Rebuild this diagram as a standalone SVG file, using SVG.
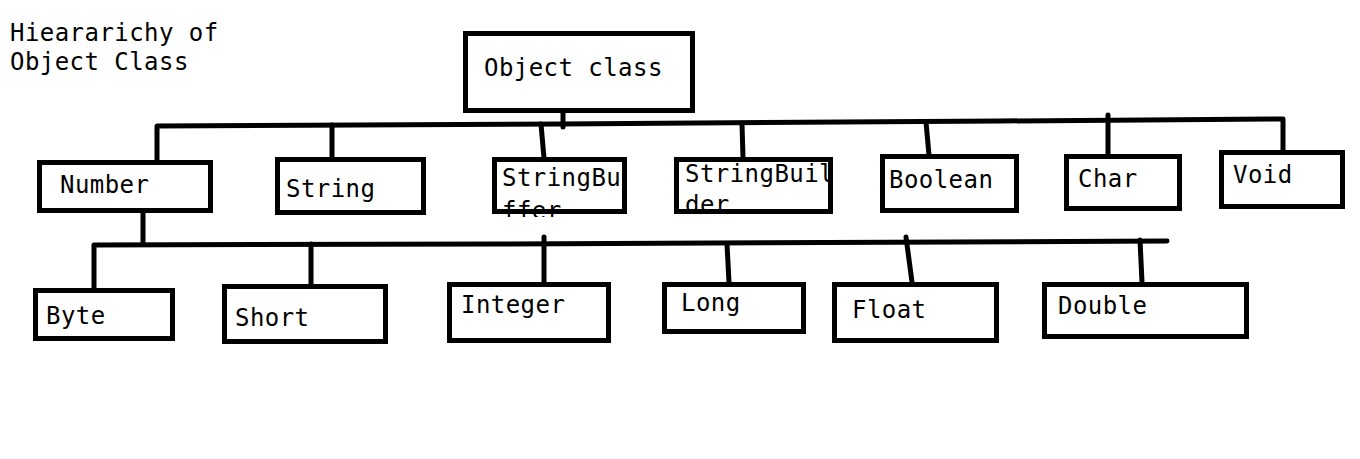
<svg xmlns="http://www.w3.org/2000/svg" width="1360" height="459" viewBox="0 0 1360 459">
<style>
.box{fill:#fff;stroke:#000;stroke-width:5}
.t{font-family:"DejaVu Sans Mono","Liberation Mono",monospace;font-size:24px;letter-spacing:0.45px;fill:#000}
.ln{fill:none;stroke:#000;stroke-width:5;stroke-linecap:round;stroke-linejoin:round}
</style>
<defs>
<clipPath id="cbuf"><rect x="495" y="160" width="128" height="57"/></clipPath>
<clipPath id="cbld"><rect x="677" y="160" width="151" height="53"/></clipPath>
</defs>
<rect width="1360" height="459" fill="#fff"/>
<g id="title">
<text class="t" x="10" y="41">Hieararichy of</text>
<text class="t" x="10" y="70">Object Class</text>
</g>
<g id="connectors">
<path class="ln" d="M157,160 L157,126 L560,124 L1000,121 L1283,119 L1283,150"/>
<path class="ln" d="M563,108 L563,127"/>
<path class="ln" d="M332,125 L332,158"/>
<path class="ln" d="M541,124 L544,158"/>
<path class="ln" d="M742,124 L743,158"/>
<path class="ln" d="M926,122 L929,155"/>
<path class="ln" d="M1108,115 L1108,155"/>
<path class="ln" d="M94,288 L94,245 L500,244 L1167,241"/>
<path class="ln" d="M143,212 L143,244"/>
<path class="ln" d="M311,244 L311,284"/>
<path class="ln" d="M544,237 L544,289"/>
<path class="ln" d="M727,244 L729,282"/>
<path class="ln" d="M906,237 L912,282"/>
<path class="ln" d="M1140,240 L1142,282"/>
</g>
<g id="object"><rect class="box" x="465.5" y="33.5" width="227" height="77"/><text class="t" x="484" y="76">Object class</text></g>
<g id="number"><rect class="box" x="39.5" y="162.5" width="171" height="48"/><text class="t" x="60" y="193">Number</text></g>
<g id="string"><rect class="box" x="277.5" y="159.5" width="146" height="53"/><text class="t" x="286" y="197">String</text></g>
<g id="stringbuffer"><rect class="box" x="494.5" y="159.5" width="130" height="52"/><g clip-path="url(#cbuf)"><text class="t" x="502" y="186">StringBuffer</text><text class="t" x="502" y="219">ffer</text></g><path d="M492,211.5 L627,211.5" stroke="#000" stroke-width="5"/></g>
<g id="stringbuilder"><rect class="box" x="676.5" y="159.5" width="154" height="52"/><g clip-path="url(#cbld)"><text class="t" x="685" y="182">StringBuilder</text><text class="t" x="685" y="213">der</text></g><path d="M674,211.5 L833,211.5" stroke="#000" stroke-width="5"/><path d="M830.5,157 L830.5,214" stroke="#000" stroke-width="5"/></g>
<g id="boolean"><rect class="box" x="882.5" y="156.5" width="134" height="54"/><text class="t" x="889" y="188">Boolean</text></g>
<g id="char"><rect class="box" x="1066.5" y="156.5" width="113" height="52"/><text class="t" x="1078" y="187">Char</text></g>
<g id="void"><rect class="box" x="1221.5" y="152.5" width="121" height="54"/><text class="t" x="1233" y="183">Void</text></g>
<g id="byte"><rect class="box" x="35.5" y="290.5" width="137" height="48"/><text class="t" x="46" y="324">Byte</text></g>
<g id="short"><rect class="box" x="224.5" y="286.5" width="161" height="55"/><text class="t" x="235" y="326">Short</text></g>
<g id="integer"><rect class="box" x="449.5" y="284.5" width="159" height="56"/><text class="t" x="461" y="313">Integer</text></g>
<g id="long"><rect class="box" x="664.5" y="284.5" width="139" height="47"/><text class="t" x="681" y="311">Long</text></g>
<g id="float"><rect class="box" x="834.5" y="284.5" width="162" height="56"/><text class="t" x="852" y="318">Float</text></g>
<g id="double"><rect class="box" x="1044.5" y="284.5" width="202" height="52"/><text class="t" x="1058" y="314">Double</text></g>
</svg>
